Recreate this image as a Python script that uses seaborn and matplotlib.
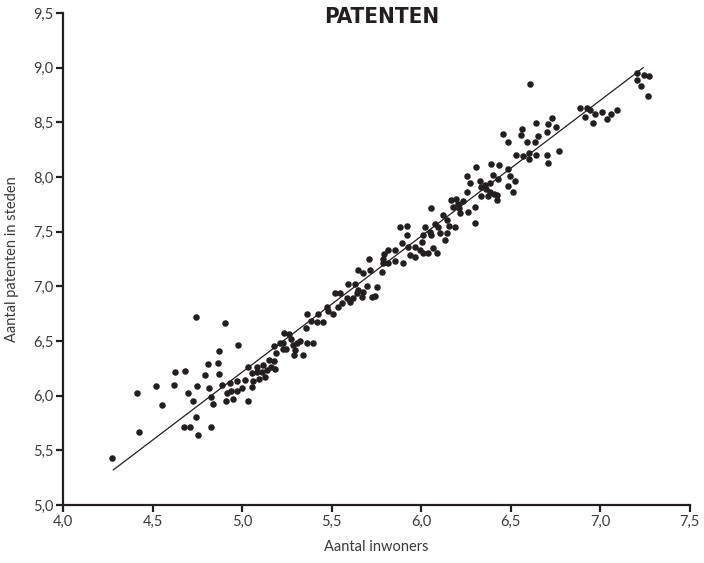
import numpy as np
import pandas as pd
import matplotlib
matplotlib.use("Agg")
import matplotlib.pyplot as plt
import seaborn as sns
from matplotlib.ticker import FuncFormatter

# ==========================================
# DATA
# ==========================================
inwoners = [
    # left tail
    4.741, 4.906, 4.977, 4.871, 4.810, 4.867, 4.627, 4.680, 4.793, 4.869,
    5.035, 4.518, 4.618, 4.411, 4.698, 4.750, 4.815, 4.886, 4.726, 4.825,
    4.554, 4.839, 4.910, 4.951, 4.914, 4.932, 4.970, 5.016, 4.938, 4.970,
    5.001, 4.741, 4.677, 4.707, 4.825, 4.752, 4.426, 4.274, 5.035,
    # 5.05 - 5.6
    5.054, 5.059, 5.054, 5.081, 5.085, 5.096, 5.109, 5.118, 5.128, 5.137,
    5.150, 5.161, 5.178, 5.184, 5.178, 5.189, 5.212, 5.230, 5.227, 5.243,
    5.234, 5.263, 5.271, 5.286, 5.295, 5.291, 5.305, 5.323, 5.342, 5.364,
    5.394, 5.361, 5.355, 5.385, 5.416, 5.425, 5.450, 5.472, 5.481, 5.509,
    5.519, 5.547, 5.559, 5.584, 5.537, 5.593,
    # 5.6 - 6.15
    5.630, 5.602, 5.621, 5.640, 5.649, 5.668, 5.677, 5.696, 5.724, 5.742,
    5.751, 5.649, 5.677, 5.714, 5.710, 5.779, 5.785, 5.792, 5.816, 5.854,
    5.788, 5.816, 5.854, 5.891, 5.900, 5.881, 5.919, 5.919, 5.928, 5.965,
    5.937, 5.965, 5.993, 6.012, 6.040, 6.067, 6.086, 6.003, 6.012, 6.021,
    6.049, 6.055, 6.077, 6.095, 6.123, 6.142, 6.105, 6.142, 6.133, 6.055,
    6.155,
    # 6.15 - 6.75
    6.486, 6.589, 6.635, 6.529, 6.570, 6.603, 6.603, 6.641, 6.701, 6.709,
    6.306, 6.388, 6.433, 6.486, 6.257, 6.272, 6.328, 6.356, 6.384, 6.402,
    6.427, 6.496, 6.524, 6.486, 6.511, 6.334, 6.362, 6.384, 6.406, 6.334,
    6.375, 6.425, 6.421, 6.254, 6.165, 6.194, 6.207, 6.235, 6.176, 6.213,
    6.217, 6.263, 6.300, 6.189, 6.300,
    6.641, 6.710, 6.561, 6.555, 6.458, 6.650, 6.701, 6.607,
    # right end
    6.732, 6.752, 6.771, 6.887, 6.924, 6.942, 6.970, 6.915, 6.958, 7.008,
    7.036, 7.058, 7.092, 7.203, 7.244, 7.272, 7.207, 7.225, 7.268,
]

patenten = [
    6.722, 6.667, 6.463, 6.411, 6.290, 6.296, 6.216, 6.226, 6.192, 6.195,
    6.265, 6.088, 6.098, 6.027, 6.027, 6.091, 6.070, 6.095, 5.951, 5.990,
    5.912, 5.921, 5.954, 5.972, 6.027, 6.116, 6.134, 6.143, 6.045, 6.045,
    6.067, 5.802, 5.711, 5.711, 5.716, 5.640, 5.668, 5.433, 5.953,
    6.204, 6.137, 6.076, 6.265, 6.216, 6.149, 6.219, 6.280, 6.168, 6.234,
    6.326, 6.265, 6.317, 6.244, 6.454, 6.393, 6.479, 6.479, 6.424, 6.424,
    6.570, 6.561, 6.515, 6.463, 6.417, 6.372, 6.479, 6.503, 6.372, 6.479,
    6.484, 6.744, 6.616, 6.683, 6.671, 6.747, 6.671, 6.814, 6.774, 6.744,
    6.936, 6.936, 6.850, 6.890, 6.808, 7.021,
    7.021, 6.859, 6.890, 6.936, 6.966, 6.899, 6.951, 7.003, 6.899, 6.911,
    6.991, 7.149, 7.119, 7.149, 7.250, 7.134, 7.247, 7.293, 7.332, 7.332,
    7.210, 7.210, 7.234, 7.393, 7.210, 7.545, 7.554, 7.469, 7.362, 7.362,
    7.286, 7.271, 7.332, 7.307, 7.307, 7.348, 7.307, 7.408, 7.469, 7.545,
    7.500, 7.469, 7.570, 7.545, 7.652, 7.607, 7.490, 7.485, 7.424, 7.719,
    7.552,
    8.323, 8.323, 8.323, 8.201, 8.192, 8.217, 8.165, 8.201, 8.201, 8.131,
    8.089, 8.116, 8.110, 8.073, 8.009, 7.948, 7.966, 7.927, 7.942, 8.018,
    7.979, 8.009, 7.966, 7.918, 7.865, 7.911, 7.887, 7.865, 7.844, 7.826,
    7.826, 7.835, 7.790, 7.865, 7.790, 7.796, 7.753, 7.780, 7.728, 7.714,
    7.668, 7.682, 7.728, 7.540, 7.582,
    8.497, 8.485, 8.439, 8.384, 8.393, 8.375, 8.409, 8.848,
    8.537, 8.460, 8.238, 8.628, 8.628, 8.613, 8.576, 8.551, 8.491, 8.592,
    8.530, 8.576, 8.613, 8.948, 8.933, 8.924, 8.887, 8.832, 8.741,
]

# trend line as drawn in the reference (start and end)
trend_x = [4.28, 7.24]
trend_y = [5.32, 9.00]

x_ticks = [4.0, 4.5, 5.0, 5.5, 6.0, 6.5, 7.0, 7.5]
y_ticks = [5.0, 5.5, 6.0, 6.5, 7.0, 7.5, 8.0, 8.5, 9.0, 9.5]

df = pd.DataFrame({"inwoners": inwoners, "patenten": patenten})
line_df = pd.DataFrame({"x": trend_x, "y": trend_y})

# ==========================================
# PLOT
# ==========================================
sns.set_theme(style="ticks")
plt.rcParams["font.family"] = ["Lato", "DejaVu Sans"]

fig = plt.figure(figsize=(7.04, 5.63), dpi=100)
ax = fig.add_axes([0.0895, 0.103, 0.8905, 0.874])

sns.scatterplot(data=df, x="inwoners", y="patenten", ax=ax,
                color="#231f20", s=22, linewidth=0, zorder=3)
sns.lineplot(data=line_df, x="x", y="y", ax=ax, color="#231f20",
             linewidth=0.9, zorder=2)

ax.set_xlim(4.0, 7.5)
ax.set_ylim(5.0, 9.5)
ax.set_xticks(x_ticks)
ax.set_yticks(y_ticks)
comma = FuncFormatter(lambda v, _: f"{v:.1f}".replace(".", ","))
ax.xaxis.set_major_formatter(comma)
ax.yaxis.set_major_formatter(comma)

ax.spines["top"].set_visible(False)
ax.spines["right"].set_visible(False)
for side in ["left", "bottom"]:
    ax.spines[side].set_linewidth(1.6)
    ax.spines[side].set_color("#231f20")
ax.tick_params(axis="both", length=5, width=1.6, color="#231f20",
               labelsize=10.5, labelcolor="#3a3a3a", pad=2)

ax.set_xlabel("Aantal inwoners", fontsize=10.5, color="#3a3a3a", labelpad=8)
ax.set_ylabel("Aantal patenten in steden", fontsize=10.5, color="#3a3a3a",
              labelpad=10)

fig.text(0.542, 0.970, "PATENTEN", ha="center", va="center",
         fontsize=16, fontweight="bold", fontstretch="condensed",
         color="#231f20", family=["DejaVu Sans"])

fig.savefig("out.png", dpi=100)
